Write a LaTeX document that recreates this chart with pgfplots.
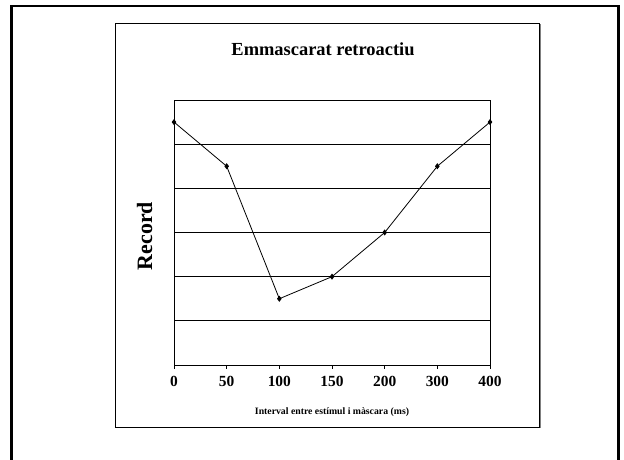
\documentclass[border=0pt]{standalone}
\usepackage{fontspec}
\setmainfont{Liberation Serif}
\usepackage{pgfplots}
\pgfplotsset{compat=1.18}
\begin{document}
\begin{tikzpicture}[x=1bp,y=1bp]
\useasboundingbox (0,0) rectangle (624,460);
\fill[white] (0,0) rectangle (624,460);
% outer frame
\draw[line width=2.2bp] (11.5,0) -- (11.5,454) -- (618.5,454) -- (618.5,0);
% inner frame
\draw[gray, line width=1bp] (116,32.2) -- (540,32.2) -- (540,436);
\draw[black, line width=0.9bp] (115,32.8) rectangle (539,436.7);
\begin{axis}[
  at={(174bp,95bp)}, anchor=south west,
  scale only axis, width=316bp, height=265bp,
  xmin=0, xmax=6, ymin=0, ymax=6,
  xtick={0,1,2,3,4,5,6},
  xticklabels={0,50,100,150,200,300,400},
  ytick={1,2,3,4,5}, yticklabels={},
  ymajorgrids, major grid style={black, line width=0.8bp},
  ytick style={draw=none},
  xtick pos=bottom, tick align=outside,
  major tick length=4bp,
  xtick style={black, line width=0.8bp},
  axis line style={black, line width=0.8bp},
  /pgf/number format/assume math mode=true,
  xticklabel style={font=\fontsize{15.5}{15.5}\selectfont\bfseries, yshift=-3.5bp},
  clip=false,
]
\addplot[black, line width=0.8bp, mark=diamond*, mark size=2.4bp, mark options={fill=black}]
  coordinates {(0,5.5) (1,4.5) (2,1.5) (3,2) (4,3) (5,4.5) (6,5.5)};
\end{axis}
\node[anchor=base, font=\fontsize{18.5}{18.5}\selectfont\bfseries] at (323,404) {Emmascarat retroactiu};
\node[anchor=base, rotate=90, font=\fontsize{22}{22}\selectfont\bfseries] at (152,224) {Record};
\node[anchor=base, font=\fontsize{9.8}{9.8}\selectfont\bfseries] at (332,45) {Interval entre estímul i màscara (ms)};
\end{tikzpicture}
\end{document}
